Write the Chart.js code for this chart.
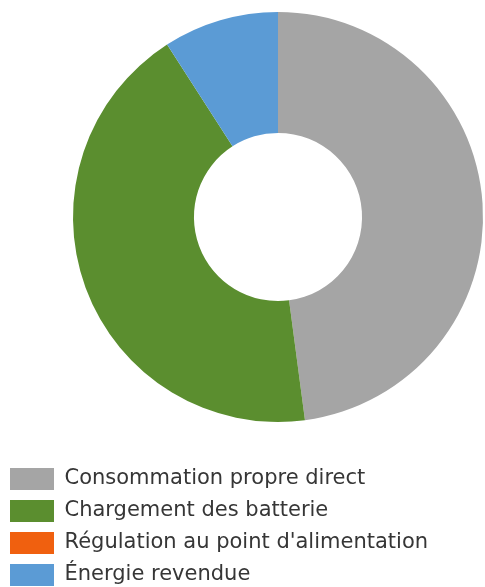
<!DOCTYPE html>
<html>
<head>
<meta charset="utf-8">
<script src="https://cdn.jsdelivr.net/npm/chart.js@4.4.0/dist/chart.umd.min.js"></script>
<style>
  html, body { margin: 0; padding: 0; background: #ffffff; overflow: hidden; }
  body { width: 485px; height: 587px; }
  /* the drawing surface runs past the right edge so the ring sits right of centre */
  #wrap { position: relative; width: 556px; height: 587px; }
</style>
</head>
<body>
<div id="wrap"><canvas id="chart"></canvas></div>
<script>
// Energy distribution (share of production, %)
const categories = [
  'Consommation propre direct',
  'Chargement des batterie',
  'Régulation au point d\'alimentation',
  'Énergie revendue'
];
const shares = [47.9, 43.0, 0, 9.1];
const sliceColors = ['#a5a5a5', '#5b8e2f', '#f0600f', '#5b9bd5'];

new Chart(document.getElementById('chart'), {
  type: 'doughnut',
  data: {
    labels: categories,
    datasets: [{
      data: shares,
      backgroundColor: sliceColors,
      borderWidth: 0,
      hoverOffset: 0
    }]
  },
  options: {
    responsive: true,
    maintainAspectRatio: false,
    animation: false,
    cutout: '41%',
    layout: { padding: { top: 12, left: 0, right: 0, bottom: -9 } },
    plugins: {
      tooltip: { enabled: false },
      legend: {
        position: 'bottom',
        align: 'start',
        title: { display: true, text: ' ', padding: 0, font: { size: 36, lineHeight: 1 } },
        labels: {
          boxWidth: 44,
          boxHeight: 22,
          padding: 10,
          color: '#363636',
          font: { family: '"DejaVu Sans", sans-serif', size: 21 }
        }
      }
    }
  }
});
</script>
</body>
</html>
